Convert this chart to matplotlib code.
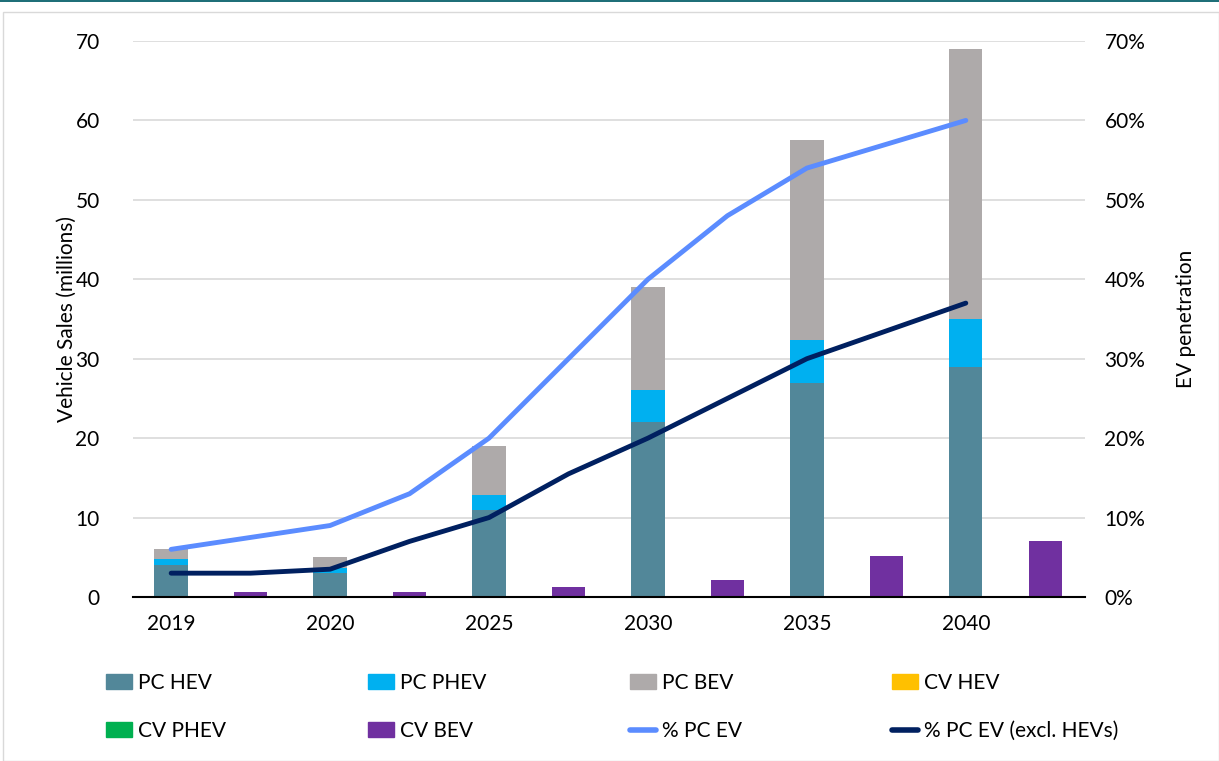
import numpy as np
import matplotlib
matplotlib.use("Agg")
import matplotlib.pyplot as plt
from matplotlib.patches import Rectangle
from matplotlib.lines import Line2D

plt.rcParams['font.family'] = ['Lato', 'DejaVu Sans']

years = ["2019", "2020", "2025", "2030", "2035", "2040"]

# stacked PC sales (millions)
pc_hev = [4.0, 3.0, 11.0, 22.0, 27.0, 29.0]
pc_phev = [0.8, 0.6, 1.8, 4.0, 5.3, 6.0]
pc_bev = [1.2, 1.4, 6.2, 13.0, 25.2, 34.0]
cv_hev = [0, 0, 0, 0, 0, 0]
cv_phev = [0, 0, 0, 0, 0, 0]
cv_bev = [0.6, 0.6, 1.2, 2.1, 5.1, 7.1]

# penetration lines (%), x in category units
line_x = [0, 0.5, 1, 1.5, 2, 2.5, 3, 3.5, 4, 5]
pc_ev = [6, 7.5, 9, 13, 20, 30, 40, 48, 54, 60]
pc_ev_excl = [3, 3, 3.5, 7, 10, 15.5, 20, 25, 30, 37]

c_hev = "#528799"
c_phev = "#00b0f0"
c_bev = "#aeaaaa"
c_cvhev = "#ffc000"
c_cvphev = "#00b050"
c_cvbev = "#7030a0"
c_l1 = "#5b8cff"
c_l2 = "#002060"

FS = 15

fig = plt.figure(figsize=(12.19, 7.61), dpi=100)
ax = fig.add_axes([133 / 1219, 1 - 597 / 761, (1085 - 133) / 1219, (597 - 41) / 761])
ax2 = ax.twinx()

x = np.arange(len(years))
w = 0.21
b1 = np.array(pc_hev)
b2 = b1 + np.array(pc_phev)
ax.bar(x, pc_hev, w, color=c_hev, zorder=2)
ax.bar(x, pc_phev, w, bottom=b1, color=c_phev, zorder=2)
ax.bar(x, pc_bev, w, bottom=b2, color=c_bev, zorder=2)
ax.bar(x + 0.5, cv_hev, w, color=c_cvhev, zorder=2)
ax.bar(x + 0.5, cv_phev, w, bottom=cv_hev, color=c_cvphev, zorder=2)
ax.bar(x + 0.5, cv_bev, w, color=c_cvbev, zorder=2)

ax.set_ylim(0, 70)
ax.set_yticks(range(0, 71, 10))
ax.set_xlim(-0.24, 5.75)
ax.set_xticks(x)
ax.set_xticklabels(years)
ax.grid(axis='y', color='#d9d9d9', linewidth=1.2, zorder=0)
ax.set_axisbelow(True)
for s in ['top', 'left', 'right']:
    ax.spines[s].set_visible(False)
    ax2.spines[s].set_visible(False)
ax2.spines['bottom'].set_visible(False)
ax.spines['bottom'].set_color('black')
ax.spines['bottom'].set_linewidth(1.5)
ax.tick_params(axis='both', length=0, labelsize=FS)
ax.tick_params(axis='y', pad=24)
ax.tick_params(axis='x', pad=12)
ax.set_ylabel("Vehicle Sales (millions)", fontsize=FS, labelpad=-1)

ax2.plot(line_x, pc_ev, color=c_l1, lw=3.5, solid_capstyle='round')
ax2.plot(line_x, pc_ev_excl, color=c_l2, lw=3.5, solid_capstyle='round')
ax2.set_ylim(0, 70)
ax2.set_yticks(range(0, 71, 10))
ax2.set_yticklabels([f"{v}%" for v in range(0, 71, 10)])
ax2.tick_params(axis='y', length=0, labelsize=FS, pad=14)
ax2.set_ylabel("EV penetration", fontsize=FS, labelpad=22)

rect = lambda c: Rectangle((0, 0), 1, 1, color=c)
legend_cols = [
    ([rect(c_hev), rect(c_cvphev)], ["PC HEV", "CV PHEV"]),
    ([rect(c_phev), rect(c_cvbev)], ["PC PHEV", "CV BEV"]),
    ([rect(c_bev), Line2D([], [], color=c_l1, lw=4, solid_capstyle='round')], ["PC BEV", "% PC EV"]),
    ([rect(c_cvhev), Line2D([], [], color=c_l2, lw=4, solid_capstyle='round')], ["CV HEV", "% PC EV (excl. HEVs)"]),
]
col_x = [96, 358, 620, 882]
for (hs, ls), cx in zip(legend_cols, col_x):
    lg = fig.legend(hs, ls, loc='center left', bbox_to_anchor=(cx / 1219, 1 - 707 / 761),
                    frameon=False, fontsize=FS, handlelength=1.25, handleheight=0.75,
                    handletextpad=0.25, labelspacing=1.35, borderpad=0)

# outer frame and top rule
fig.patches.append(Rectangle((3 / 1219, 0), 1 - 3 / 1219, 1 - 12 / 761, transform=fig.transFigure,
                             fill=False, edgecolor='#d9d9d9', lw=1))
fig.patches.append(Rectangle((0, 1 - 2 / 761), 1, 2 / 761, transform=fig.transFigure,
                             color='#1f6f78', lw=0))

fig.savefig("out.png", dpi=100)
